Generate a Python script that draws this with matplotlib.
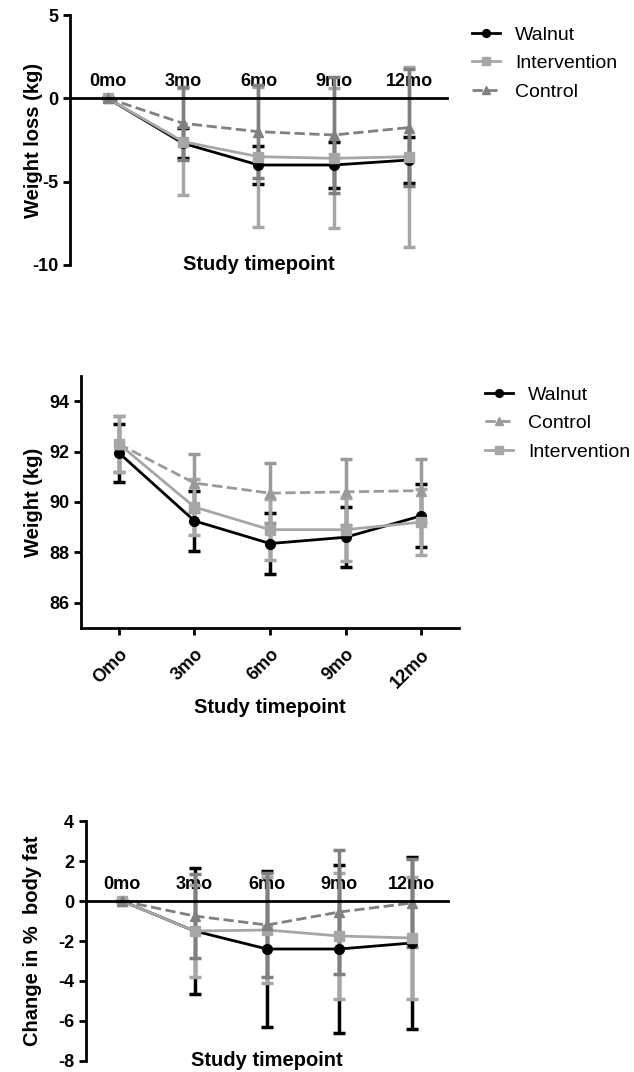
import numpy as np
import matplotlib
matplotlib.use('Agg')
import matplotlib.pyplot as plt

plt.rcParams['font.family'] = ['Liberation Sans', 'DejaVu Sans']
plt.rcParams['axes.unicode_minus'] = False

timepoints = ['0mo', '3mo', '6mo', '9mo', '12mo']
timepoints_rot = ['Omo', '3mo', '6mo', '9mo', '12mo']

# weight loss (kg)
wl_walnut = [0, -2.7, -4.0, -4.0, -3.7]
wl_walnut_err = [0, 0.9, 1.15, 1.4, 1.4]
wl_interv = [0, -2.6, -3.5, -3.6, -3.5]
wl_interv_err = [0, 3.2, 4.2, 4.2, 5.4]
wl_control = [0, -1.5, -2.0, -2.2, -1.75]
wl_control_err = [0, 2.2, 2.8, 3.5, 3.5]

# weight (kg)
w_walnut = [91.95, 89.25, 88.35, 88.6, 89.45]
w_walnut_err = [1.15, 1.2, 1.2, 1.2, 1.25]
w_control = [92.3, 90.75, 90.35, 90.4, 90.45]
w_control_err = [1.1, 1.15, 1.2, 1.3, 1.25]
w_interv = [92.3, 89.8, 88.9, 88.9, 89.2]
w_interv_err = [1.1, 1.1, 1.2, 1.25, 1.3]

# change in % body fat
bf_walnut = [0, -1.5, -2.4, -2.4, -2.1]
bf_walnut_err = [0, 3.15, 3.9, 4.2, 4.3]
bf_interv = [0, -1.5, -1.45, -1.75, -1.85]
bf_interv_err = [0, 2.3, 2.65, 3.15, 3.05]
bf_control = [0, -0.75, -1.2, -0.55, -0.1]
bf_control_err = [0, 2.1, 2.6, 3.1, 2.2]

BLACK = '#000000'
LIGHT = '#a6a6a6'
DARK = '#808080'

x = np.arange(len(timepoints))
fig = plt.figure(figsize=(6.34, 10.72), dpi=100)

ekw = dict(elinewidth=2.5, capsize=4, capthick=2.5, linewidth=2, markersize=7)


def series(ax, y, err, style):
    color, marker, ls, label = style
    h = ax.errorbar(x, y, yerr=err, color=color, ecolor=color, marker=marker,
                    linestyle=ls, **ekw)
    return h[0]


def style_left(ax):
    ax.spines['right'].set_visible(False)
    ax.spines['left'].set_linewidth(2)
    ax.tick_params(axis='y', width=2, length=5, labelsize=13)
    for t in ax.get_yticklabels():
        t.set_fontweight('bold')


def zero_axis(ax):
    # x axis crossing at 0, labels above
    ax.spines['bottom'].set_visible(False)
    ax.spines['top'].set_position(('data', 0))
    ax.spines['top'].set_linewidth(2)
    ax.xaxis.tick_top()
    ax.set_xticks(x)
    ax.set_xticklabels(timepoints, fontsize=13, fontweight='bold')
    ax.tick_params(axis='x', length=0, pad=6)
    ax.set_xlim(-0.5, 4.5)
    ax.set_xlabel('Study timepoint', fontsize=14.5, fontweight='bold')
    ax.xaxis.set_label_position('bottom')
    ax.xaxis.set_label_coords(0.5, 0.0)
    ax.xaxis.label.set_verticalalignment('center')


def legend(ax, handles, labels, x0, y0):
    ax.legend(handles, labels, loc='upper left', bbox_to_anchor=(x0, y0),
              bbox_transform=fig.transFigure, frameon=False, fontsize=14,
              handlelength=1.45, handletextpad=0.75, borderpad=0,
              borderaxespad=0, labelspacing=0.56, markerscale=0.8)


# panel 1
ax1 = fig.add_axes([0.1104, 0.7528, 0.5946, 0.2332])
h1 = series(ax1, wl_walnut, wl_walnut_err, (BLACK, 'o', '-', 'Walnut'))
h2 = series(ax1, wl_interv, wl_interv_err, (LIGHT, 's', '-', 'Intervention'))
h3 = series(ax1, wl_control, wl_control_err, (DARK, '^', '--', 'Control'))
ax1.set_ylim(-10, 5)
ax1.set_yticks([-10, -5, 0, 5])
style_left(ax1)
zero_axis(ax1)
ax1.set_ylabel('Weight loss (kg)', fontsize=14.5, fontweight='bold')
ax1.yaxis.set_label_coords(-0.0716, 0.5)
legend(ax1, [h1, h2, h3], ['Walnut', 'Intervention', 'Control'],
       472 / 634, 1 - 26 / 1072)

# panel 2
ax2 = fig.add_axes([0.1278, 0.4142, 0.5962, 0.2351])
g1 = series(ax2, w_walnut, w_walnut_err, (BLACK, 'o', '-', 'Walnut'))
g2 = series(ax2, w_control, w_control_err, ('#9a9a9a', '^', '--', 'Control'))
g3 = series(ax2, w_interv, w_interv_err, (LIGHT, 's', '-', 'Intervention'))
ax2.set_ylim(85, 95)
ax2.set_yticks([86, 88, 90, 92, 94])
ax2.set_xlim(-0.5, 4.5)
ax2.spines['top'].set_visible(False)
ax2.spines['bottom'].set_linewidth(2)
style_left(ax2)
ax2.set_xticks(x)
ax2.set_xticklabels(timepoints_rot, rotation=45, ha='right', rotation_mode='anchor',
                    fontsize=13, fontweight='bold')
ax2.tick_params(axis='x', width=2, length=5, pad=8)
ax2.set_xlabel('Study timepoint', fontsize=14.5, fontweight='bold', labelpad=5)
ax2.set_ylabel('Weight (kg)', fontsize=14.5, fontweight='bold')
ax2.yaxis.set_label_coords(-0.1005, 0.5)
legend(ax2, [g1, g2, g3], ['Walnut', 'Control', 'Intervention'],
       485 / 634, 1 - 386 / 1072)

# panel 3
ax3 = fig.add_axes([0.1356, 0.0103, 0.571, 0.2238])
series(ax3, bf_walnut, bf_walnut_err, (BLACK, 'o', '-', 'Walnut'))
series(ax3, bf_interv, bf_interv_err, (LIGHT, 's', '-', 'Intervention'))
series(ax3, bf_control, bf_control_err, (DARK, '^', '--', 'Control'))
ax3.set_ylim(-8, 4)
ax3.set_yticks([-8, -6, -4, -2, 0, 2, 4])
style_left(ax3)
zero_axis(ax3)
ax3.set_ylabel('Change in %  body fat', fontsize=14.5, fontweight='bold')
ax3.yaxis.set_label_coords(-0.1215, 0.5)

fig.savefig('out.png', dpi=100)
